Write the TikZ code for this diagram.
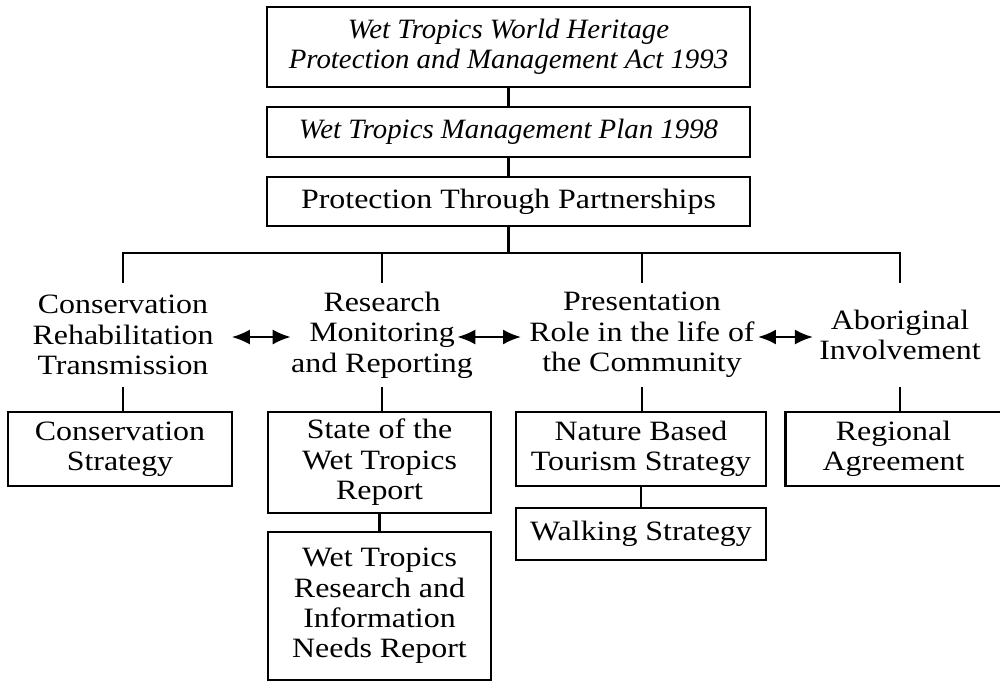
\documentclass[tikz,border=0pt]{standalone}
\usepackage{fontspec}
\setmainfont{Liberation Serif}[FakeStretch=1.14,ItalicFeatures={FakeStretch=1.03}]
\usetikzlibrary{arrows.meta}

\begin{document}
\begin{tikzpicture}
      [%%%%%%%%%%%%%%%%%%%%%%%%%%%%%%
      x=0.5pt,y=-0.5pt,
      box/.style={rectangle,draw=black,line width=1.3pt,align=center,inner sep=0pt,
        font=\fontsize{14pt}{15.2pt}\selectfont},
      head/.style={box,font=\fontsize{14pt}{15.2pt}\selectfont\itshape},
      topic/.style={rectangle,align=center,inner sep=0pt,minimum height=52pt,
        font=\fontsize{14pt}{15.2pt}\selectfont},
      link/.style={line width=1.3pt},
      twoway/.style={line width=1.1pt,{Latex[length=9pt,width=7.5pt]}-{Latex[length=9pt,width=7.5pt]}},
      ]%%%%%%%%%%%%%%%%%%%%%%%%%%%%%%
      \useasboundingbox (0,0) rectangle (1000,682);

      % legislation and plan
      \node[head,minimum width=241.5pt,minimum height=40pt] (act) at (508.5,47)
        {Wet Tropics World Heritage\\Protection and Management Act 1993};
      \node[head,minimum width=241.5pt,minimum height=25pt] (plan) at (508.5,132)
        {Wet Tropics Management Plan 1998};
      \node[box,minimum width=241.5pt,minimum height=24.5pt] (ptp) at (508.5,201.5)
        {Protection Through Partnerships};
      \coordinate (bus) at (508.5,253);

      % program areas
      \node[topic] (cons) at (123,335) {Conservation\\Rehabilitation\\Transmission};
      \node[topic] (res)  at (382,335) {Research\\Monitoring\\and Reporting};
      \node[topic] (pres) at (642,335) {Presentation\\Role in the life of\\the Community};
      \node[topic] (abor) at (900,335) {Aboriginal\\Involvement};

      % strategies
      \node[box,minimum width=112pt,minimum height=37pt] (cstrat) at (120,449)
        {Conservation\\Strategy};
      \node[box,minimum width=111.5pt,minimum height=50.5pt] (state) at (379.5,462.5)
        {State of the\\Wet Tropics\\Report};
      \node[box,minimum width=111.5pt,minimum height=74pt] (needs) at (379.5,606)
        {Wet Tropics\\Research and\\Information\\Needs Report};
      \node[box,minimum width=125pt,minimum height=37pt] (nature) at (641,449)
        {Nature Based\\Tourism Strategy};
      \node[box,minimum width=125pt,minimum height=26pt] (walk) at (641,534)
        {Walking Strategy};
      \node[box,minimum width=108pt,minimum height=37pt] (regional) at (893.5,449)
        {Regional\\Agreement};

      \draw[link] (act) -- (plan);
      \draw[link] (plan) -- (ptp);
      \draw[link] (ptp) -- (bus);
      \draw[link] (cons.north) |- (bus) -| (abor.north);
      \draw[link] (res.north) -- (res.north |- bus);
      \draw[link] (pres.north) -- (pres.north |- bus);

      \draw[link] (cons.south) -- (cons.south |- cstrat.north);
      \draw[link] (res.south) -- (res.south |- state.north);
      \draw[link] (state) -- (needs);
      \draw[link] (pres.south) -- (pres.south |- nature.north);
      \draw[link] (nature) -- (walk);
      \draw[link] (abor.south) -- (abor.south |- regional.north);

      % two-way links
      \draw[twoway] ([xshift=9pt,yshift=-1pt]cons.east) -- ([yshift=-1pt]res.west);
      \draw[twoway] ([xshift=-8pt,yshift=-1pt]res.east) -- ([xshift=-4pt,yshift=-1pt]pres.west);
      \draw[twoway] ([xshift=1.5pt,yshift=-1pt]pres.east) -- ([xshift=-3pt,yshift=-1pt]abor.west);
    \end{tikzpicture}
\end{document}
